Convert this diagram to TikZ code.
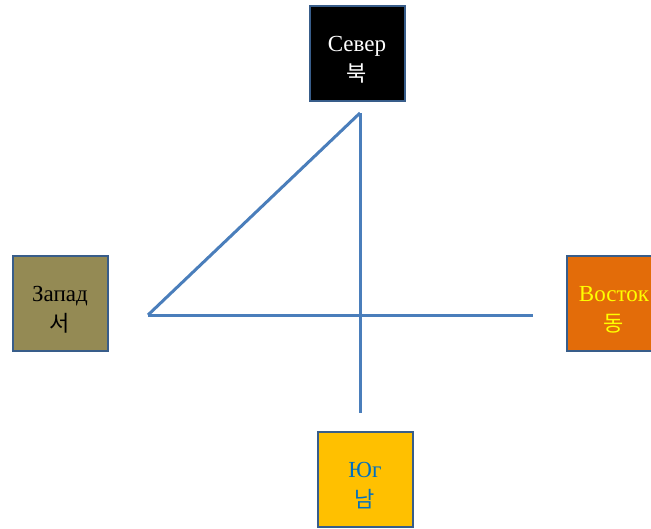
\documentclass[tikz,border=0pt]{standalone}
\usepackage{fontspec}
\setmainfont{Liberation Serif}
\newfontfamily\kr{Noto Sans CJK KR}
\definecolor{edge}{HTML}{385D8A}
\definecolor{linec}{HTML}{4A7EBB}
\definecolor{olive}{HTML}{948A54}
\definecolor{orng}{HTML}{E36C09}
\definecolor{gold}{HTML}{FFC000}
\definecolor{txtblue}{HTML}{0070C0}
\definecolor{yel}{HTML}{FFFF00}
\tikzset{
  box/.style={draw=edge, line width=2pt, minimum width=95pt, minimum height=95pt, inner sep=0pt, align=center, font=\fontsize{23}{30}\selectfont},
  conn/.style={draw=linec, line width=3pt}
}
\newcommand{\krtxt}[1]{{\kr\fontsize{22}{30}\selectfont #1}}
\newcommand{\topstrut}{\rule{0pt}{28pt}}
\begin{document}
\begin{tikzpicture}[x=1pt,y=-1pt]
\useasboundingbox (0,0) rectangle (651,528);
\begin{scope}
\clip (0,0) rectangle (651,528);
\node[box, fill=black, text=white] (north) at (357,53.5) {\topstrut Север\\\krtxt{북}};
\node[box, fill=olive, text=black] (west) at (60,303) {\topstrut Запад\\\krtxt{서}};
\node[box, fill=orng, text=yel] (east) at (614,303) {\topstrut Восток\\\krtxt{동}};
\node[box, fill=gold, text=txtblue] (south) at (365,479) {\topstrut Юг\\\krtxt{남}};
\end{scope}
\coordinate (top) at (360,113);
\coordinate (bot) at (360,413);
\coordinate (left) at (148,315);
\coordinate (right) at (533,315);
\draw[conn] (top) -- (bot);
\draw[conn] (left) -- (right);
\draw[conn, line join=miter] (left) -- (top);
\end{tikzpicture}
\end{document}
